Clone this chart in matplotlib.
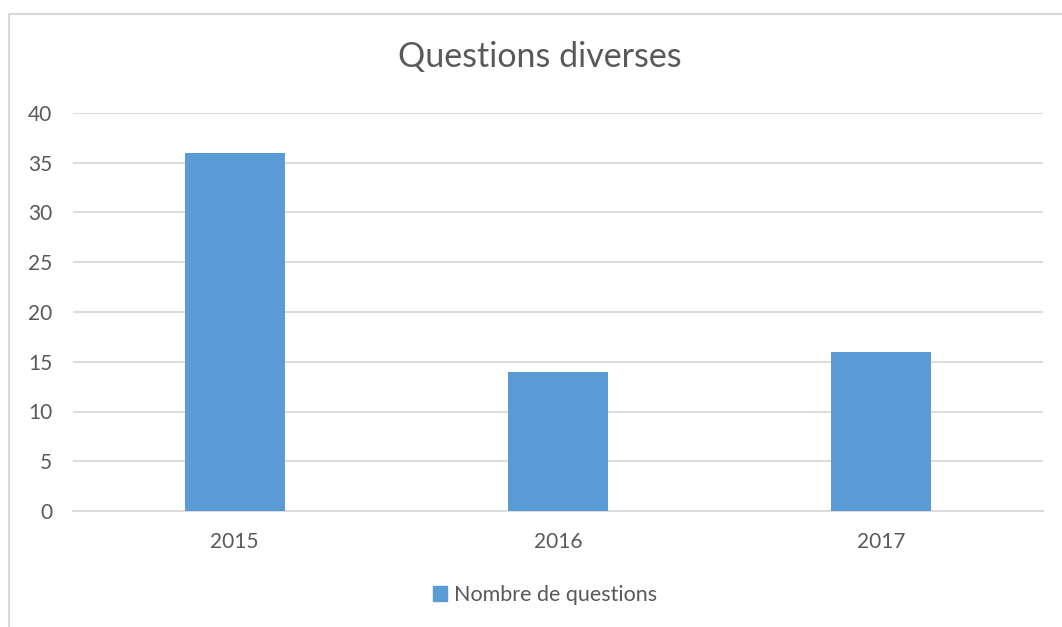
import matplotlib
matplotlib.use("Agg")
import matplotlib.pyplot as plt
from matplotlib.lines import Line2D
from matplotlib.patches import Patch

categories = ["2015", "2016", "2017"]
values = [36, 14, 16]
yticks = [0, 5, 10, 15, 20, 25, 30, 35, 40]
series_name = "Nombre de questions"
title = "Questions diverses"

plt.rcParams['font.family'] = ['Lato', 'DejaVu Sans']
W, H = 1062, 627
fig = plt.figure(figsize=(W/100, H/100), dpi=100)
ax = fig.add_axes([73/W, 1-511/H, (1043-73)/W, (511-113)/H])

color = "#5B9BD5"
x = list(range(len(categories)))
ax.bar(x, values, width=0.31, color=color, zorder=3)
ax.set_xlim(-0.5, 2.5)
ax.set_ylim(0, 40)
ax.set_yticks(yticks)
ax.set_xticks(x)
ax.set_xticklabels(categories)
ax.grid(axis='y', color='#D9D9D9', linewidth=1.3, zorder=0)
for s in ['top', 'right', 'left']:
    ax.spines[s].set_visible(False)
ax.spines['bottom'].set_color('#D9D9D9')
ax.spines['bottom'].set_linewidth(1.3)
ax.tick_params(axis='both', length=0, labelsize=15, colors='#595959')
ax.tick_params(axis='y', pad=15)
ax.tick_params(axis='x', pad=15)

fig.text(540/W, 1-57/H, title, ha='center', va='center', fontsize=24.5, color='#595959')

fig.legend(handles=[Patch(color=color, label=series_name)], loc='center',
           bbox_to_anchor=(545/W, 1-595/H), frameon=False, fontsize=15.5,
           labelcolor='#595959', handlelength=0.65, handleheight=0.65, handletextpad=0.3)

# chart border (left and top edges visible)
fig.add_artist(Line2D([8.5/W, 8.5/W], [0, 1-13.5/H], transform=fig.transFigure, color='#D9D9D9', linewidth=1.5))
fig.add_artist(Line2D([8.5/W, 1], [1-13.5/H, 1-13.5/H], transform=fig.transFigure, color='#D9D9D9', linewidth=1.5))

fig.savefig("out.png", dpi=100)
